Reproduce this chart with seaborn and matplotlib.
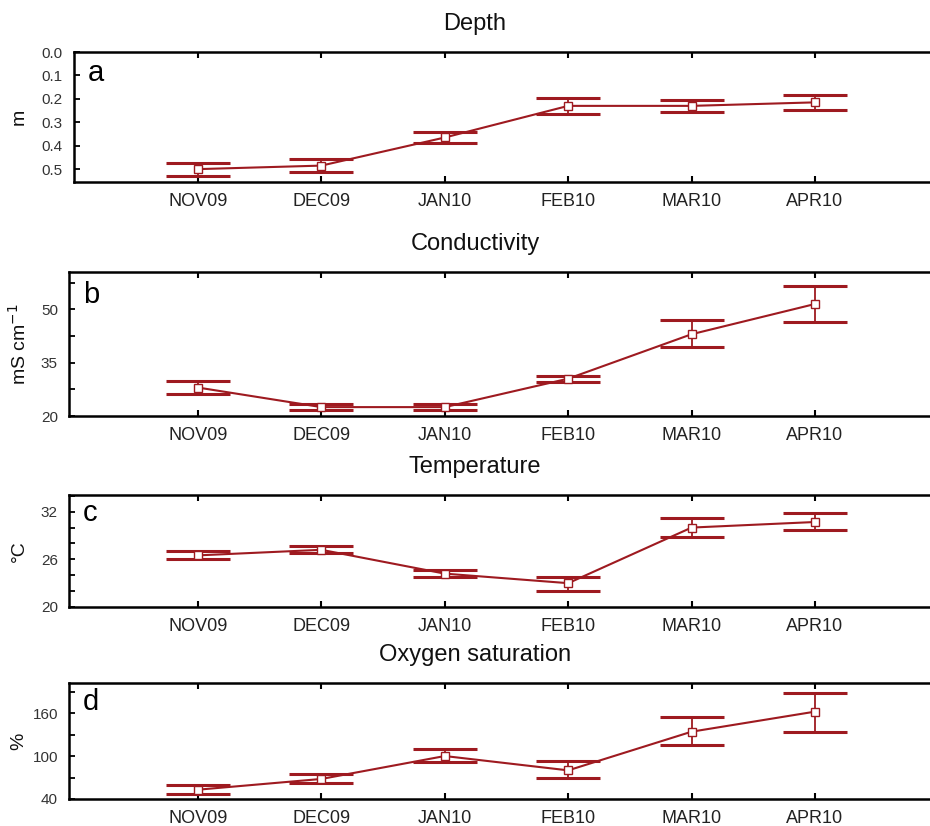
import matplotlib
matplotlib.use("Agg")
import matplotlib.pyplot as plt
import seaborn as sns
import pandas as pd

sns.set_theme(style="white")
plt.rcParams['font.family'] = ['Liberation Sans', 'DejaVu Sans']

months = ['NOV09', 'DEC09', 'JAN10', 'FEB10', 'MAR10', 'APR10']

depth_mean = [0.50, 0.485, 0.365, 0.23, 0.23, 0.215]
depth_low = [0.472, 0.457, 0.340, 0.197, 0.203, 0.182]
depth_high = [0.528, 0.513, 0.390, 0.265, 0.255, 0.246]
depth_ticks = [0.0, 0.1, 0.2, 0.3, 0.4, 0.5]

cond_mean = [28.0, 22.5, 22.5, 30.5, 43.0, 51.5]
cond_low = [26.3, 21.6, 21.6, 29.6, 39.5, 46.5]
cond_high = [29.8, 23.5, 23.3, 31.3, 47.0, 56.5]
cond_ticks = [20, 35, 50]
cond_minor = [27.5, 42.5, 57.5]

temp_mean = [26.5, 27.2, 24.2, 23.0, 30.0, 30.7]
temp_low = [26.1, 26.8, 23.8, 22.0, 28.8, 29.7]
temp_high = [27.0, 27.7, 24.7, 23.8, 31.2, 31.8]
temp_ticks = [20, 26, 32]
temp_minor = [22, 24, 28, 30, 34]

oxy_mean = [53, 68, 100, 80, 134, 162]
oxy_low = [47, 62, 91, 70, 115, 134]
oxy_high = [60, 75, 110, 93, 154, 188]
oxy_ticks = [40, 100, 160]
oxy_minor = [70, 130, 190]

red = '#9e1a20'
W, H = 930, 826

panels = [
    # title, letter, ylabel, mean, low, high, ylim, major, minor, box(left, top, bottom), invert
    ('Depth', 'a', 'm', depth_mean, depth_low, depth_high, (0.0, 0.555), depth_ticks, [], (74, 52, 182), True),
    ('Conductivity', 'b', 'mS cm$^{-1}$', cond_mean, cond_low, cond_high, (20, 60.5), cond_ticks, cond_minor, (69, 272, 416), False),
    ('Temperature', 'c', '°C', temp_mean, temp_low, temp_high, (20, 34.1), temp_ticks, temp_minor, (69, 495, 607), False),
    ('Oxygen saturation', 'd', '%', oxy_mean, oxy_low, oxy_high, (40, 202), oxy_ticks, oxy_minor, (69, 683, 799), False),
]

fig = plt.figure(figsize=(W / 100, H / 100), dpi=100)

for title, letter, ylab, mean, low, high, ylim, major, minor, box, inv in panels:
    left, top, bottom = box
    ax = fig.add_axes([left / W, 1 - bottom / H, (W - left) / W, (bottom - top) / H])
    df = pd.DataFrame({'month': months, 'mean': mean, 'low': low, 'high': high})
    df['x'] = range(len(months))
    err = [df['mean'] - df['low'], df['high'] - df['mean']]
    ax.errorbar(df['x'], df['mean'], yerr=err, fmt='none', ecolor=red, elinewidth=1.3,
                capsize=23, capthick=2.2, zorder=2)
    sns.lineplot(data=df, x='x', y='mean', ax=ax, color=red, lw=1.5, marker='s', markersize=6,
                 markerfacecolor='white', markeredgecolor=red, markeredgewidth=1.0, zorder=3)
    ax.set_xlim(-(198 - left) / 123.4, (W - 198) / 123.4)
    if inv:
        ax.set_ylim(ylim[1], ylim[0])
    else:
        ax.set_ylim(*ylim)
    ax.set_xticks(df['x'])
    ax.set_xticklabels(months, fontsize=13)
    ax.set_yticks(major)
    ax.set_yticks(minor, minor=True)
    if inv:
        ax.set_yticklabels([f'{t:.1f}' for t in major])
    ax.tick_params(axis='x', direction='in', length=4, width=1.5, top=True, bottom=True, pad=8,
                   colors='black', labelcolor='#222222')
    ax.tick_params(axis='y', which='both', direction='in', length=4, width=1.3, left=True, pad=8,
                   labelsize=11, colors='black', labelcolor='#333333')
    ax.spines['right'].set_visible(False)
    for s in ['left', 'top', 'bottom']:
        ax.spines[s].set_color('black')
        ax.spines[s].set_linewidth(1.8)
    ax.set_xlabel('')
    ax.set_ylabel('')
    fig.text(19 / W, 1 - (top + bottom) / 2 / H, ylab, rotation=90, ha='center', va='center',
             fontsize=14, color='#111111')
    ax.text(0.016, 0.84, letter, transform=ax.transAxes, fontsize=21, ha='left', va='center', color='black')
    fig.text(475 / W, 1 - (top - 28) / H, title, ha='center', va='center', fontsize=17, color='#111111')

fig.savefig('out.png', dpi=100)
